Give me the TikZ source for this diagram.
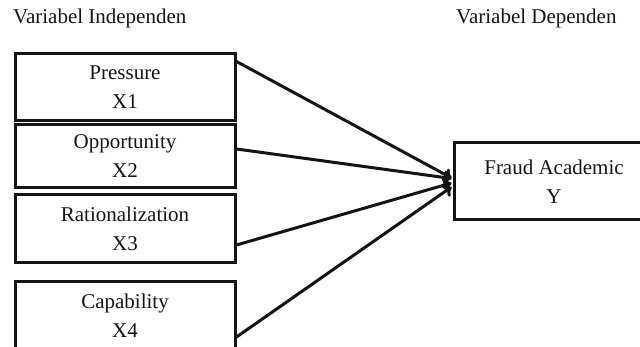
\documentclass[tikz,border=0pt]{standalone}
\usepackage{fontspec}
\setmainfont{Liberation Serif}
\usetikzlibrary{arrows.meta}
\definecolor{ink}{HTML}{141414}
\begin{document}
\begin{tikzpicture}[x=1pt,y=-1pt,
  vbox/.style={draw=ink,line width=3pt,minimum width=220pt,inner sep=0pt,
    align=center,text=ink,font=\fontsize{21}{29}\selectfont},
  head/.style={text=ink,font=\fontsize{21}{25}\selectfont,anchor=base west,inner sep=0pt},
  link/.style={draw=ink,line width=3pt,-{To[length=8pt,width=14pt]}}]
\useasboundingbox (0,0) rectangle (640,347);
\clip (0,0) rectangle (640,347);
\node[head] (hi) at (13,24) {Variabel Independen};
\node[head] (hd) at (456,24) {Variabel Dependen};
\node[vbox,minimum height=67pt] (b1) at (125,87.5) {Pressure\\X1};
\node[vbox,minimum height=63pt] (b2) at (125,156.5) {Opportunity\\X2};
\node[vbox,minimum height=68pt] (b3) at (125,229) {Rationalization\\X3};
\node[vbox,minimum height=68pt] (b4) at (125,316) {Capability\\X4};
\node[vbox,minimum width=200pt,minimum height=77pt] (fy) at (554,181.5) {Fraud Academic\\Y};
\coordinate (s1) at ([yshift=-9pt]b1.north east);
\coordinate (s2) at ([yshift=7.5pt]b2.east);
\coordinate (s3) at ([yshift=-16pt]b3.east);
\coordinate (s4) at ([yshift=-21pt]b4.east);
\coordinate (t1) at ([xshift=-1pt,yshift=3.5pt]fy.west);
\coordinate (t2) at ([xshift=-1pt,yshift=3pt]fy.west);
\coordinate (t3) at ([xshift=-1pt,yshift=-1.5pt]fy.west);
\coordinate (t4) at ([xshift=-1pt,yshift=-5.5pt]fy.west);
\draw[link] (s1) -- (t1);
\draw[link] (s2) -- (t2);
\draw[link] (s3) -- (t3);
\draw[link] (s4) -- (t4);
\end{tikzpicture}
\end{document}
